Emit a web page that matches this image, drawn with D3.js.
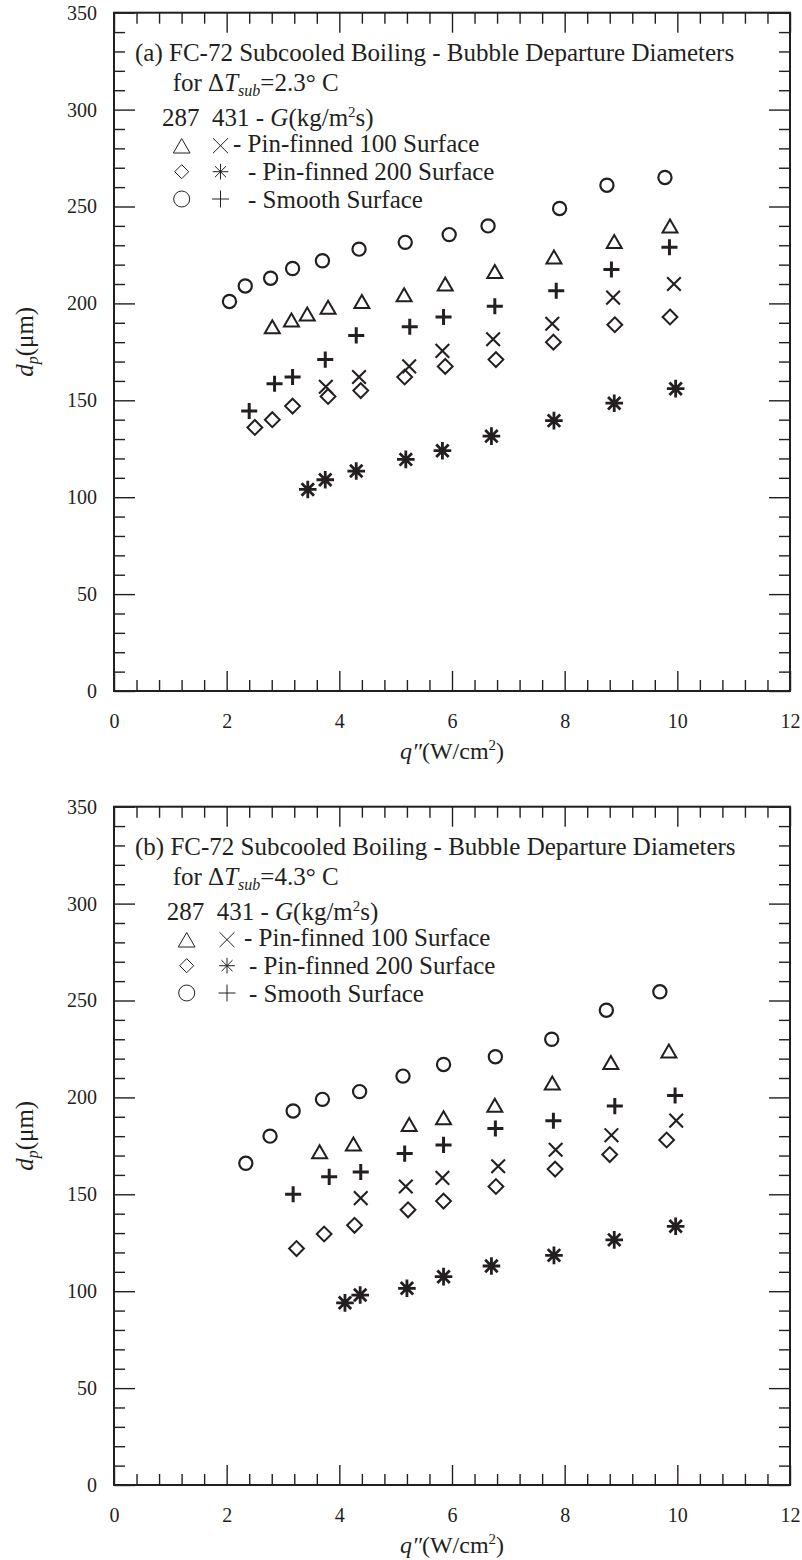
<!DOCTYPE html>
<html><head><meta charset="utf-8">
<script src="https://cdn.jsdelivr.net/npm/d3@7"></script>
<style>
body{margin:0;background:#fff;}
svg{display:block;}
svg text{font-family:"Liberation Serif",serif !important;}
</style></head><body>
<svg id="chart" width="802" height="1560"></svg>
<script>
// ---------------- data ----------------
const xMajorTicks = [0, 2, 4, 6, 8, 10, 12];
const yMajorTicks = [0, 50, 100, 150, 200, 250, 300, 350];
const panelTitles = ["(a) FC-72 Subcooled Boiling - Bubble Departure Diameters",
                     "(b) FC-72 Subcooled Boiling - Bubble Departure Diameters"];
const deltaTsub = ["2.3", "4.3"];
const massFluxes = ["287", "431"];
const surfaceLabels = ["- Pin-finned 100 Surface", "- Pin-finned 200 Surface", "- Smooth Surface"];

// panel (a): ΔTsub = 2.3 °C
const a_pin100_287_q = [2.81, 3.15, 3.43, 3.80, 4.40, 5.15, 5.88, 6.76, 7.81, 8.88, 9.87];
const a_pin100_287_d = [188, 191.5, 194.5, 198, 201, 204.5, 210, 216.5, 224, 232, 240];
const a_pin100_431_q = [3.76, 4.35, 5.24, 5.83, 6.73, 7.78, 8.86, 9.94];
const a_pin100_431_d = [157, 162, 167.5, 175.5, 181.5, 189.5, 203, 210];
const a_pin200_287_q = [2.50, 2.81, 3.17, 3.80, 4.38, 5.16, 5.88, 6.78, 7.80, 8.89, 9.87];
const a_pin200_287_d = [136, 140, 147, 152, 155, 162, 167.5, 171, 180, 189, 193];
const a_pin200_431_q = [3.44, 3.75, 4.30, 5.18, 5.83, 6.70, 7.81, 8.88, 9.97];
const a_pin200_431_d = [104, 109, 113.5, 119.5, 124, 131.5, 139.5, 148.5, 156];
const a_smooth_287_q = [2.05, 2.33, 2.78, 3.17, 3.70, 4.35, 5.17, 5.95, 6.64, 7.91, 8.75, 9.78];
const a_smooth_287_d = [201, 209, 213, 218, 222, 228, 231.5, 235.5, 240, 249, 261, 265];
const a_smooth_431_q = [2.40, 2.85, 3.17, 3.75, 4.30, 5.25, 5.85, 6.76, 7.85, 8.83, 9.86];
const a_smooth_431_d = [144.5, 158.5, 162, 171, 183.5, 188, 193, 198.5, 206.5, 217.5, 229];

// panel (b): ΔTsub = 4.3 °C
const b_pin100_287_q = [3.65, 4.25, 5.24, 5.85, 6.76, 7.78, 8.82, 9.85];
const b_pin100_287_d = [172, 176, 186, 189.5, 196, 207.5, 218, 224];
const b_pin100_431_q = [4.38, 5.18, 5.83, 6.82, 7.84, 8.83, 9.98];
const b_pin100_431_d = [148, 154, 158.5, 164.5, 173, 180.5, 188];
const b_pin200_287_q = [3.24, 3.73, 4.27, 5.22, 5.85, 6.78, 7.83, 8.80, 9.81];
const b_pin200_287_d = [122, 129.5, 134, 142, 146.5, 154, 163, 170.5, 178];
const b_pin200_431_q = [4.10, 4.37, 5.20, 5.85, 6.70, 7.81, 8.88, 9.97];
const b_pin200_431_d = [94, 98, 101.5, 107.5, 113, 118.5, 126.5, 133.5];
const b_smooth_287_q = [2.34, 2.77, 3.18, 3.70, 4.36, 5.13, 5.85, 6.77, 7.77, 8.74, 9.69];
const b_smooth_287_d = [166, 180, 193, 199, 203, 211, 217, 221, 230, 245, 254.5];
const b_smooth_431_q = [3.18, 3.82, 4.38, 5.16, 5.85, 6.77, 7.80, 8.89, 9.96];
const b_smooth_431_d = [150, 159, 161.5, 171, 175.5, 184, 188, 195.5, 201];

// ---------------- symbols ----------------
const asterisk8 = {
  draw(ctx, size) {
    const r = Math.sqrt(size) * 0.6, d = r * Math.SQRT1_2;
    ctx.moveTo(0, -r); ctx.lineTo(0, r);
    ctx.moveTo(-r, 0); ctx.lineTo(r, 0);
    ctx.moveTo(-d, -d); ctx.lineTo(d, d);
    ctx.moveTo(-d, d); ctx.lineTo(d, -d);
  }
};
const markerStyles = {
  triangle: {type: d3.symbolTriangle2, size: 161, sw: 2.0, dy: 2.2, lsize: 200},
  cross:    {type: d3.symbolX,         size: 123, sw: 2.1, dy: 0,   lsize: 148},
  diamond:  {type: d3.symbolDiamond2,  size: 140, sw: 2.0, dy: 0,   lsize: 125},
  asterisk: {type: asterisk8,          size: 215, sw: 2.8, dy: 0,   lsize: 170},
  circle:   {type: d3.symbolCircle,    size: 137, sw: 2.2, dy: 0,   lsize: 201},
  plus:     {type: d3.symbolPlus,      size: 86,  sw: 3.0, dy: 0,   lsize: 96}
};

const ink = "#231f20";
const FONT = '"Liberation Serif", serif';
const panels = [
  {title: panelTitles[0], dT: deltaTsub[0], top: 12.7, bottom: 691,
   series: [
     {m: "triangle", q: a_pin100_287_q, d: a_pin100_287_d},
     {m: "cross",    q: a_pin100_431_q, d: a_pin100_431_d},
     {m: "diamond",  q: a_pin200_287_q, d: a_pin200_287_d},
     {m: "asterisk", q: a_pin200_431_q, d: a_pin200_431_d},
     {m: "circle",   q: a_smooth_287_q, d: a_smooth_287_d},
     {m: "plus",     q: a_smooth_431_q, d: a_smooth_431_d}],
   leg: {g: 162, s1: 181.7, s2: 220.5, t1: 233, t2: 248}},
  {title: panelTitles[1], dT: deltaTsub[1], top: 806.7, bottom: 1485,
   series: [
     {m: "triangle", q: b_pin100_287_q, d: b_pin100_287_d},
     {m: "cross",    q: b_pin100_431_q, d: b_pin100_431_d},
     {m: "diamond",  q: b_pin200_287_q, d: b_pin200_287_d},
     {m: "asterisk", q: b_pin200_431_q, d: b_pin200_431_d},
     {m: "circle",   q: b_smooth_287_q, d: b_smooth_287_d},
     {m: "plus",     q: b_smooth_431_q, d: b_smooth_431_d}],
   leg: {g: 166.7, s1: 186.7, s2: 227, t1: 244, t2: 249}}
];

const svg = d3.select("#chart");
svg.append("rect").attr("width", 802).attr("height", 1560).attr("fill", "#fff");

const range = (a, b, s) => d3.range(a, b + 1e-9, s).map(v => +v.toFixed(4));
const txt = (sel) => sel.style("font-family", FONT).attr("fill", ink);

panels.forEach(p => {
  const x = d3.scaleLinear().domain([0, 12]).range([114, 790]);
  const y = d3.scaleLinear().domain([0, 350]).range([p.bottom, p.top]);
  const g = svg.append("g");

  const xMinor = range(0, 12, 0.4).filter(v => !xMajorTicks.includes(v));
  const yMinor = range(0, 350, 10).filter(v => !yMajorTicks.includes(v));

  function styleAxis(sel) {
    sel.attr("font-family", null);
    sel.select(".domain").remove();
    sel.selectAll(".tick line").attr("stroke", ink).attr("stroke-width", 1.4);
    sel.selectAll(".tick text").attr("fill", ink).attr("font-size", 20)
      .style("font-family", FONT);
  }
  // bottom
  g.append("g").attr("transform", `translate(0,${y(0)})`)
    .call(d3.axisBottom(x).tickValues(xMajorTicks).tickSize(-20).tickPadding(23).tickFormat(d3.format("d")))
    .call(styleAxis);
  g.append("g").attr("transform", `translate(0,${y(0)})`)
    .call(d3.axisBottom(x).tickValues(xMinor).tickSize(-11).tickFormat("")).call(styleAxis);
  // top
  g.append("g").attr("transform", `translate(0,${y(350)})`)
    .call(d3.axisTop(x).tickValues(xMajorTicks).tickSize(-20).tickFormat("")).call(styleAxis);
  g.append("g").attr("transform", `translate(0,${y(350)})`)
    .call(d3.axisTop(x).tickValues(xMinor).tickSize(-11).tickFormat("")).call(styleAxis);
  // left
  g.append("g").attr("transform", `translate(${x(0)},0)`)
    .call(d3.axisLeft(y).tickValues(yMajorTicks).tickSize(-21).tickPadding(17).tickFormat(d3.format("d")))
    .call(styleAxis);
  g.append("g").attr("transform", `translate(${x(0)},0)`)
    .call(d3.axisLeft(y).tickValues(yMinor).tickSize(-11).tickFormat("")).call(styleAxis);
  // right
  g.append("g").attr("transform", `translate(${x(12)},0)`)
    .call(d3.axisRight(y).tickValues(yMajorTicks).tickSize(-21).tickFormat("")).call(styleAxis);
  g.append("g").attr("transform", `translate(${x(12)},0)`)
    .call(d3.axisRight(y).tickValues(yMinor).tickSize(-11).tickFormat("")).call(styleAxis);

  // frame
  g.append("rect").attr("x", x(0)).attr("y", y(350))
    .attr("width", x(12) - x(0)).attr("height", y(0) - y(350))
    .attr("fill", "none").attr("stroke", ink).attr("stroke-width", 2);

  // axis titles
  const xt = g.append("text").attr("x", (x(0) + x(12)) / 2).attr("y", y(0) + 67.5)
    .attr("text-anchor", "middle").attr("font-size", 24).call(txt);
  xt.append("tspan").attr("font-style", "italic").text("q\u2033");
  xt.append("tspan").text("(W/cm");
  xt.append("tspan").attr("font-size", 15).attr("dy", -9).text("2");
  xt.append("tspan").attr("dy", 9).text(")");

  const yt = g.append("text")
    .attr("transform", `translate(33,${(y(0) + y(350)) / 2 - 10}) rotate(-90)`)
    .attr("text-anchor", "middle").attr("font-size", 25).call(txt);
  yt.append("tspan").attr("font-style", "italic").text("d");
  yt.append("tspan").attr("font-style", "italic").attr("font-size", 16).attr("dy", 5).text("p");
  yt.append("tspan").attr("dy", -5).text("(\u03bcm)");

  // title block
  const T = p.top;
  g.append("text").attr("x", 135).attr("y", T + 48.3).attr("font-size", 25).call(txt).text(p.title);
  const l2 = g.append("text").attr("x", 172.7).attr("y", T + 78).attr("font-size", 25).call(txt);
  l2.append("tspan").text("for \u0394");
  l2.append("tspan").attr("font-style", "italic").text("T");
  l2.append("tspan").attr("font-style", "italic").attr("font-size", 16).attr("dy", 5).text("sub");
  l2.append("tspan").attr("dy", -5).text("=" + p.dT + "\u00b0 C");
  const l3 = g.append("text").attr("x", p.leg.g).attr("y", T + 113.3).attr("font-size", 25).call(txt);
  l3.append("tspan").text(massFluxes[0] + "\u2002" + massFluxes[1] + " - ");
  l3.append("tspan").attr("font-style", "italic").text("G");
  l3.append("tspan").text("(kg/m");
  l3.append("tspan").attr("font-size", 15).attr("dy", -9).text("2");
  l3.append("tspan").attr("dy", 9).text("s)");

  const rowCenters = [133, 159, 186.3];
  const rowBase = [138.8, 167.3, 195.3];
  const legPairs = [["triangle", "cross"], ["diamond", "asterisk"], ["circle", "plus"]];
  legPairs.forEach((pair, i) => {
    [p.leg.s1, p.leg.s2].forEach((sx, j) => {
      const st = markerStyles[pair[j]];
      g.append("path")
        .attr("d", d3.symbol().type(st.type).size(st.lsize)())
        .attr("transform", `translate(${sx},${T + rowCenters[i] + (pair[j] === "triangle" ? 2.5 : 0)})`)
        .attr("fill", "none").attr("stroke", ink).attr("stroke-width", 1);
    });
    g.append("text").attr("x", i === 0 ? p.leg.t1 : p.leg.t2).attr("y", T + rowBase[i])
      .attr("font-size", 25).call(txt).text(surfaceLabels[i]);
  });

  // data markers
  p.series.forEach(s => {
    const st = markerStyles[s.m];
    const pts = s.q.map((q, i) => [q, s.d[i]]);
    g.append("g").selectAll("path").data(pts).join("path")
      .attr("d", d3.symbol().type(st.type).size(st.size))
      .attr("transform", d => `translate(${x(d[0])},${y(d[1]) + st.dy})`)
      .attr("fill", "none").attr("stroke", ink).attr("stroke-width", st.sw);
  });
});
</script>
</body></html>
